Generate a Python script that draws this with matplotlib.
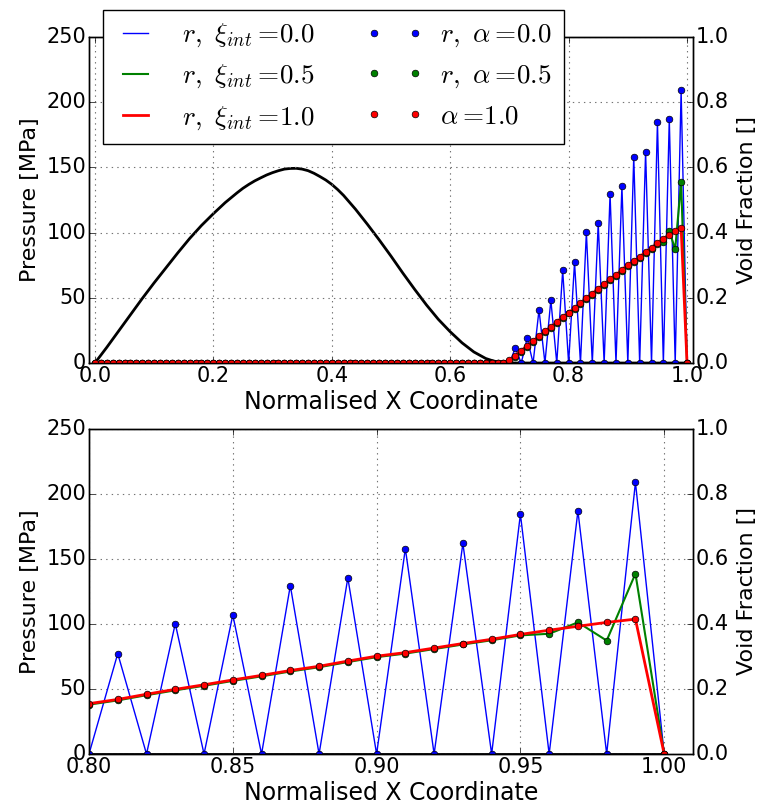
import numpy as np
import matplotlib
matplotlib.use('Agg')
import matplotlib.pyplot as plt
from matplotlib.legend_handler import HandlerLine2D

plt.style.use('classic')
plt.rcParams['font.family'] = ['DejaVu Sans']
plt.rcParams['mathtext.fontset'] = 'cm'

# ---------------- data ----------------
# pressure profile (MPa) along the normalised x coordinate
x_pressure = [0.00, 0.02, 0.04, 0.06, 0.08, 0.10, 0.12, 0.14, 0.16, 0.18,
              0.20, 0.22, 0.24, 0.25, 0.26, 0.27, 0.28, 0.29, 0.30, 0.31,
              0.32, 0.33, 0.34, 0.35, 0.36, 0.37, 0.38, 0.39, 0.40, 0.41,
              0.42, 0.44, 0.46, 0.48, 0.50, 0.52, 0.54, 0.56, 0.58, 0.60,
              0.62, 0.64, 0.66, 0.67, 0.68, 0.69, 0.70, 0.75, 0.80, 0.85,
              0.90, 0.95, 1.00]
pressure = [0.0, 12.0, 24.5, 37.0, 49.5, 61.5, 73.0, 84.5, 95.5, 105.5,
            114.5, 123.0, 130.5, 134.0, 137.0, 139.7, 142.0, 144.2, 146.0, 147.5,
            148.7, 149.2, 149.3, 148.7, 147.5, 145.5, 143.0, 140.3, 137.0, 133.0,
            128.5, 118.0, 106.5, 94.5, 82.0, 69.0, 56.5, 44.5, 33.5, 24.0,
            15.5, 8.5, 3.5, 2.0, 0.8, 0.2, 0.0, 0.0, 0.0, 0.0,
            0.0, 0.0, 0.0]

# void fraction at the nodes x = 0.00, 0.01, ..., 1.00
x_nodes = [round(0.01 * i, 2) for i in range(101)]
zeros_before_cavity = [0.0] * 70          # nodes 0.00 ... 0.69
vf_alpha00 = zeros_before_cavity + [
    0.000, 0.046, 0.000, 0.076, 0.000, 0.163, 0.000, 0.193, 0.000, 0.284,
    0.000, 0.309, 0.000, 0.401, 0.000, 0.428, 0.000, 0.518, 0.000, 0.542,
    0.000, 0.632, 0.000, 0.648, 0.000, 0.738, 0.000, 0.748, 0.000, 0.836,
    0.000]
vf_alpha05 = zeros_before_cavity + [
    0.006, 0.020, 0.035, 0.050, 0.065, 0.079, 0.094, 0.107, 0.123, 0.138,
    0.152, 0.165, 0.181, 0.196, 0.210, 0.225, 0.239, 0.254, 0.267, 0.283,
    0.298, 0.309, 0.323, 0.337, 0.350, 0.365, 0.370, 0.405, 0.349, 0.555,
    0.000]
vf_alpha10 = zeros_before_cavity + [
    0.008, 0.023, 0.038, 0.053, 0.068, 0.082, 0.097, 0.110, 0.126, 0.141,
    0.155, 0.168, 0.184, 0.199, 0.213, 0.228, 0.242, 0.257, 0.270, 0.286,
    0.301, 0.312, 0.326, 0.340, 0.353, 0.368, 0.381, 0.393, 0.405, 0.415,
    0.000]

line_labels = [r'$r,\ \xi_{int}=\!0.0$', r'$r,\ \xi_{int}=\!0.5$',
               r'$r,\ \xi_{int}=\!1.0$']
dot_labels = [r'$r,\ \alpha=\!0.0$', r'$r,\ \alpha=\!0.5$', r'$\alpha=\!1.0$']
colors = ['b', 'g', 'r']
widths = [1.0, 1.5, 2.0]
series = [vf_alpha00, vf_alpha05, vf_alpha10]

pressure_ticks = [0, 50, 100, 150, 200, 250]
vf_ticks = [0.0, 0.2, 0.4, 0.6, 0.8, 1.0]

# ---------------- figure ----------------
fig = plt.figure(figsize=(7.58, 8.08), dpi=100, facecolor='white')
rects = [[0.1174, 0.5507, 0.7968, 0.4035], [0.1174, 0.0668, 0.7968, 0.4023]]
xlims = [(-0.01, 1.01), (0.8, 1.01)]
xticks = [[0.0, 0.2, 0.4, 0.6, 0.8, 1.0], [0.80, 0.85, 0.90, 0.95, 1.00]]
xticklabels = [['0.0', '0.2', '0.4', '0.6', '0.8', '1.0'],
               ['0.80', '0.85', '0.90', '0.95', '1.00']]

FS = 16
handles = None
dot_handles = None
for k in range(2):
    ax = fig.add_axes(rects[k])
    ax.plot(x_pressure, pressure, 'k-', lw=2.0)
    ax.set_xlim(*xlims[k])
    ax.set_ylim(0, 250)
    ax.set_xticks(xticks[k])
    ax.set_xticklabels(xticklabels[k])
    ax.set_yticks(pressure_ticks)
    ax.grid(True, color='0.45', linestyle=':', linewidth=0.8)
    ax.set_xlabel('Normalised X Coordinate', fontsize=17, labelpad=3)
    ax.set_ylabel('Pressure [MPa]', fontsize=FS, labelpad=5)
    ax.tick_params(labelsize=FS - 1, pad=2)

    ax2 = ax.twinx()
    hl = []
    for s, c, w, lab in zip(series, colors, widths, line_labels):
        h, = ax2.plot(x_nodes, s, color=c, lw=w, label=lab)
        hl.append(h)
    hd = []
    for s, c, lab in zip(series, colors, dot_labels):
        h, = ax2.plot(x_nodes, s, linestyle='none', marker='o', ms=4.8,
                      mfc=c, mec='k', mew=0.5, label=lab)
        hd.append(h)
    ax2.set_ylim(0, 1.0)
    ax2.set_xlim(*xlims[k])
    ax2.set_yticks(vf_ticks)
    ax2.set_ylabel('Void Fraction []', fontsize=FS, labelpad=6)
    ax2.tick_params(labelsize=FS - 1, pad=2)
    if k == 0:
        handles = hl + hd
        dot_handles = hd

hmap = {h: HandlerLine2D(marker_pad=0.0) for h in dot_handles}
leg = fig.legend(handles, [h.get_label() for h in handles], ncol=2,
                 loc='upper left', bbox_to_anchor=(0.136, 0.988),
                 bbox_transform=fig.transFigure, borderaxespad=0.0,
                 numpoints=2, fontsize=19.5, frameon=True, fancybox=False,
                 handlelength=1.5, handletextpad=0.95, columnspacing=2.2,
                 labelspacing=0.5, borderpad=0.45, handler_map=hmap)
leg.get_frame().set_edgecolor('k')
leg.get_frame().set_linewidth(1.0)

fig.savefig('out.png', dpi=100, facecolor='white')
